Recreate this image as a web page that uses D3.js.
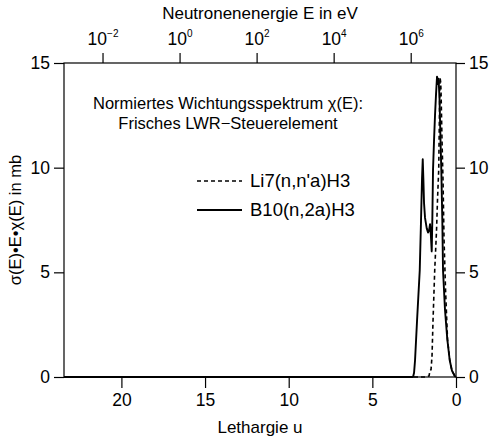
<!DOCTYPE html>
<html>
<head>
<meta charset="utf-8">
<script src="https://cdn.jsdelivr.net/npm/d3@7"></script>
<style>
  html, body { margin: 0; padding: 0; background: #fff; }
  svg { display: block; }
  text { font-family: "Liberation Sans", Arial, sans-serif; fill: #000; }
</style>
</head>
<body>
<svg id="chart" width="490" height="443"></svg>
<script>
// ---- Data ----
const uMax = Math.log(1.5e10);          // lethargy at left end (E = 1e-3 eV, E0 = 15 MeV)
const energyRef = 1.5e7;               // E0 in eV, u = ln(E0/E)

const lethargyB10 = [uMax, 2.70, 2.567, 2.507, 2.448, 2.328, 2.167, 2.090, 2.030, 1.988, 1.952, 1.910, 1.851, 1.749, 1.672, 1.612, 1.552, 1.504, 1.451, 1.415, 1.373, 1.313, 1.254, 1.194, 1.134, 1.087, 1.039, 0.985, 0.925, 0.878, 0.818, 0.776, 0.657, 0.519, 0.376, 0.239, 0.078, 0.0];
const valuesB10   = [0,    0,    0,     0.2,   0.8,   2.7,   5.1,   7.5,   9.5,   10.4,  9.5,   8.3,   7.6,   7.1,   6.9,   7.0,   7.3,   6.8,   6.0,   7.5,   9.9,   11.3,  12.5,  13.5,  14.35, 14.0,  14.25, 13.3,  11.3,  9.9,   7.5,   5.1,   3.2,   1.8,   0.8,   0.3,   0.05,  0];

const lethargyLi7 = [uMax, 1.791, 1.612, 1.552, 1.493, 1.433, 1.373, 1.272, 1.164, 1.104, 1.033, 0.985, 0.955, 0.919, 0.896, 0.836, 0.776, 0.716, 0.627, 0.507, 0.358, 0.239, 0.060, 0.0];
const valuesLi7   = [0,    0,     0.05,  0.3,   0.35,  1.0,   2.7,   5.1,   7.0,   8.5,   9.9,   12.8,  14.3,  14.1,  13.7,  11.3,  9.4,   6.6,   4.2,   1.8,   0.7,   0.3,   0.05,  0];

const uTicks = [20, 15, 10, 5, 0];
const energyTickExps = [-2, 0, 2, 4, 6];
const yTicks = [0, 5, 10, 15];

const seriesNames = ["Li7(n,n'a)H3", "B10(n,2a)H3"];
const annotationLines = ["Normiertes Wichtungsspektrum \u03C7(E):", "Frisches LWR\u2212Steuerelement"];
const xTitle = "Lethargie u";
const topTitle = "Neutronenenergie E in eV";
const yTitle = "\u03C3(E)\u2022E\u2022\u03C7(E) in mb";

// ---- Layout ----
const L = 64, R = 456, T = 63, B = 377;
const svg = d3.select("#chart");

const x = d3.scaleLinear().domain([uMax, 0]).range([L, R]);
const xTop = d3.scaleLog().domain([energyRef / Math.exp(uMax), energyRef]).range([L, R]);
const y = d3.scaleLinear().domain([0, 15]).range([B, T]);

// Frame
svg.append("rect").attr("x", L).attr("y", T).attr("width", R - L).attr("height", B - T)
  .attr("fill", "none").attr("stroke", "#000").attr("stroke-width", 1.2);

// Bottom axis
const gx = svg.append("g").attr("transform", `translate(0,${B})`)
  .call(d3.axisBottom(x).tickValues(uTicks).tickSize(11).tickPadding(6).tickFormat(d3.format("d")));
// Top axis
const gt = svg.append("g").attr("transform", `translate(0,${T})`)
  .call(d3.axisTop(xTop).tickValues(energyTickExps.map(e => Math.pow(10, e))).tickSize(10).tickPadding(7).tickFormat(() => ""));
// Left axis
const gl = svg.append("g").attr("transform", `translate(${L},0)`)
  .call(d3.axisLeft(y).tickValues(yTicks).tickSize(10).tickPadding(4));
// Right axis
const gr = svg.append("g").attr("transform", `translate(${R},0)`)
  .call(d3.axisRight(y).tickValues(yTicks).tickSize(9).tickPadding(4));

[gx, gt, gl, gr].forEach(g => {
  g.select(".domain").remove();
  g.selectAll(".tick line").attr("stroke", "#000").attr("stroke-width", 1.2);
  g.selectAll(".tick text").attr("font-size", 17.5).attr("font-family", "Liberation Sans, Arial, sans-serif").attr("fill", "#000");
});

// Top tick labels with superscripts
gt.selectAll(".tick").each(function(d, i) {
  const t = d3.select(this).select("text");
  t.text(null).attr("y", -18).attr("dy", null);
  t.append("tspan").text("10");
  t.append("tspan").attr("font-size", 10).attr("dy", -8).text(energyTickExps[i] < 0 ? "\u2212" + Math.abs(energyTickExps[i]) : energyTickExps[i]);
});

// Titles
svg.append("text").attr("x", 260).attr("y", 433).attr("text-anchor", "middle").attr("font-size", 17).text(xTitle);
svg.append("text").attr("x", 260).attr("y", 19).attr("text-anchor", "middle").attr("font-size", 17).text(topTitle);
svg.append("text").attr("transform", `translate(21,${(T + B) / 2}) rotate(-90)`).attr("text-anchor", "middle").attr("font-size", 16.5).text(yTitle);

// Annotation
svg.selectAll("text.anno").data(annotationLines).enter().append("text").attr("class", "anno")
  .attr("x", 228).attr("y", (d, i) => 109 + i * 20).attr("text-anchor", "middle").attr("font-size", 16.5).text(d => d);

// Curves
const line = d3.line().x(d => x(d[0])).y(d => y(d[1]));
const li7 = lethargyLi7.map((u, i) => [u, valuesLi7[i]]);
const b10 = lethargyB10.map((u, i) => [u, valuesB10[i]]);

svg.append("path").datum(li7).attr("d", line).attr("fill", "none").attr("stroke", "#000")
  .attr("stroke-width", 1.6).attr("stroke-dasharray", "4,3");
svg.append("path").datum(b10).attr("d", line).attr("fill", "none").attr("stroke", "#000")
  .attr("stroke-width", 1.9).attr("stroke-linejoin", "round");

// Legend
const legY = [181, 210];
const dashes = ["4,3", null];
seriesNames.forEach((name, i) => {
  const l = svg.append("line").attr("x1", 197).attr("x2", 242).attr("y1", legY[i]).attr("y2", legY[i])
    .attr("stroke", "#000").attr("stroke-width", i ? 1.9 : 1.6);
  if (dashes[i]) l.attr("stroke-dasharray", dashes[i]);
  svg.append("text").attr("x", 250).attr("y", legY[i] + 6).attr("font-size", 18.5).text(name);
});
</script>
</body>
</html>
